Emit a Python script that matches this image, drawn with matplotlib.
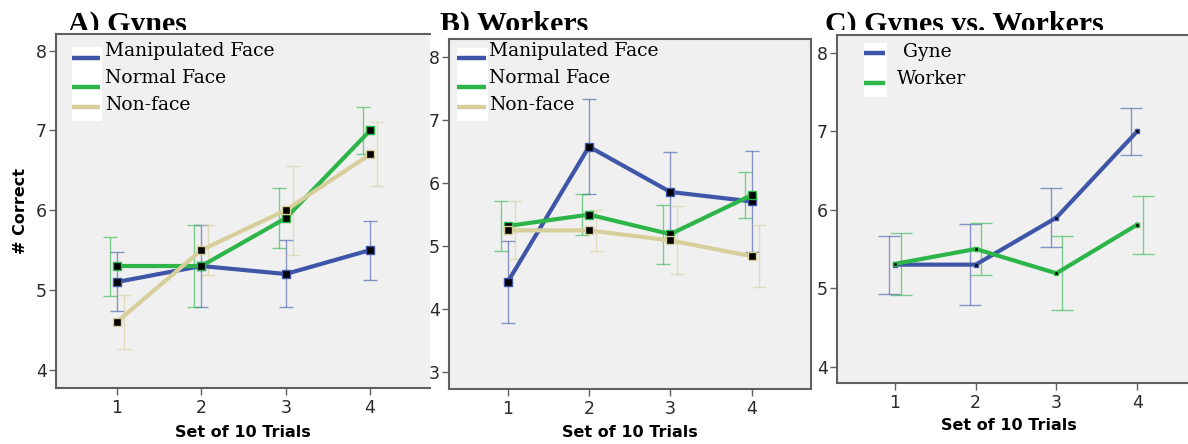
import numpy as np
import matplotlib.pyplot as plt
from matplotlib.patches import Rectangle
from matplotlib.transforms import Bbox, TransformedBbox

W, H = 1188, 444

trials = [1, 2, 3, 4]

# A) Gynes
gyne_manip = [5.1, 5.3, 5.2, 5.5]
gyne_manip_err = [0.37, 0.52, 0.42, 0.37]
gyne_normal = [5.3, 5.3, 5.9, 7.0]
gyne_normal_err = [0.37, 0.52, 0.38, 0.30]
gyne_nonface = [4.6, 5.5, 6.0, 6.7]
gyne_nonface_err = [0.34, 0.31, 0.56, 0.40]

# B) Workers
worker_manip = [4.43, 6.58, 5.86, 5.71]
worker_manip_err = [0.65, 0.75, 0.64, 0.80]
worker_normal = [5.32, 5.5, 5.19, 5.81]
worker_normal_err = [0.40, 0.33, 0.47, 0.37]
worker_nonface = [5.25, 5.25, 5.09, 4.84]
worker_nonface_err = [0.46, 0.33, 0.54, 0.49]

# C) Gynes vs. Workers
caste_gyne = [5.3, 5.3, 5.9, 7.0]
caste_gyne_err = [0.37, 0.52, 0.38, 0.30]
caste_worker = [5.31, 5.5, 5.19, 5.81]
caste_worker_err = [0.40, 0.33, 0.47, 0.37]

BLUE = "#3f56a8"
GREEN = "#2db54a"
TAN = "#d6cf9b"
BG = "#f0f0f0"
SPINE = "#606060"


def px_box(left, top, right, bottom):
    """pixel box (from top-left of figure) -> figure fraction rect"""
    return [left / W, 1 - bottom / H, (right - left) / W, (bottom - top) / H]


def draw_series(ax, y, err, color, offset, ms, capsize):
    x = np.array(trials, dtype=float)
    ax.errorbar(x + offset, y, yerr=err, fmt="none", ecolor=color, elinewidth=1,
                capsize=capsize, capthick=1, alpha=0.6, zorder=2)
    ax.plot(x, y, color=color, lw=3, zorder=3)
    ax.plot(x, y, "s", ms=ms, mfc="black", mec=color, mew=1, zorder=4)


def add_legend(ax, box, entries):
    """box and entry positions are pixel offsets from the axes' top-left corner"""
    bb = ax.get_position()
    aw, ah = bb.width * W, bb.height * H
    fx = lambda d: d / aw
    fy = lambda d: 1 - d / ah
    x0, y0, x1, y1 = box
    ax.add_patch(Rectangle((fx(x0), fy(y1)), fx(x1) - fx(x0), fy(y0) - fy(y1),
                           transform=ax.transAxes, facecolor="white",
                           edgecolor="none", zorder=5))
    for label, color, line_y, text_x, text_y in entries:
        ax.plot([fx(x0), fx(x1 - 2)], [fy(line_y), fy(line_y)], color=color, lw=3.2,
                transform=ax.transAxes, zorder=6, solid_capstyle="butt")
        ax.text(fx(text_x), fy(text_y), label, transform=ax.transAxes,
                fontsize=13.5, family="DejaVu Serif", va="baseline", zorder=6)


def style_axes(ax, xlim, ylim, yticks, right_spine):
    ax.set_facecolor(BG)
    ax.set_xlim(*xlim)
    ax.set_ylim(*ylim)
    ax.set_xticks(trials)
    ax.set_yticks(yticks)
    for side, sp in ax.spines.items():
        sp.set_color(SPINE)
        sp.set_linewidth(1.5)
    ax.spines["right"].set_visible(right_spine)
    ax.tick_params(direction="out", length=5, width=1, color=SPINE,
                   labelsize=12.5, labelcolor="#2a2a2a")
    ax.tick_params(axis="y", pad=1.5)
    ax.tick_params(axis="x", pad=3)
    ax.set_xlabel("Set of 10 Trials", fontsize=11.5, fontweight="bold")


fig = plt.figure(figsize=(W / 100, H / 100), dpi=100)

axA = fig.add_axes(px_box(56, 34, 430, 388))
axB = fig.add_axes(px_box(449, 39, 811, 389))
axC = fig.add_axes(px_box(836.7, 35, 1188, 383))

# panel A
style_axes(axA, (0.276, 4.71), (3.77, 8.21), [4, 5, 6, 7, 8], False)
draw_series(axA, gyne_manip, gyne_manip_err, BLUE, 0.0, 6, 5)
draw_series(axA, gyne_normal, gyne_normal_err, GREEN, -0.083, 6, 5)
draw_series(axA, gyne_nonface, gyne_nonface_err, TAN, 0.083, 6, 5)
axA.set_ylabel("# Correct", fontsize=11.5, fontweight="bold")
axA.yaxis.set_label_coords(-0.075, 0.5)
axA.xaxis.set_label_coords(0.5, -0.104)
add_legend(axA, (16, 13, 46, 87), [
    ("Manipulated Face", BLUE, 24, 49, 22),
    ("Normal Face", GREEN, 53, 49, 49),
    ("Non-face", TAN, 73, 49, 76),
])

# panel B
style_axes(axB, (0.278, 4.73), (2.73, 8.29), [3, 4, 5, 6, 7, 8], True)
draw_series(axB, worker_manip, worker_manip_err, BLUE, 0.0, 6, 5)
draw_series(axB, worker_normal, worker_normal_err, GREEN, -0.086, 6, 5)
draw_series(axB, worker_nonface, worker_nonface_err, TAN, 0.086, 6, 5)
axB.xaxis.set_label_coords(0.5, -0.104)
add_legend(axB, (8, 9, 39, 82), [
    ("Manipulated Face", BLUE, 19, 40, 17),
    ("Normal Face", GREEN, 48, 40, 44),
    ("Non-face", TAN, 68, 40, 71),
])

# panel C
style_axes(axC, (0.278, 4.63), (3.79, 8.23), [4, 5, 6, 7, 8], False)
draw_series(axC, caste_gyne, caste_gyne_err, BLUE, -0.07, 3, 8)
draw_series(axC, caste_worker, caste_worker_err, GREEN, 0.07, 3, 8)
axC.xaxis.set_label_coords(0.49, -0.1)
add_legend(axC, (27, 8, 50, 62), [
    (" Gyne", BLUE, 18, 60, 22),
    ("Worker", GREEN, 48, 60, 49),
])

# panel titles, clipped just above the plot frames like in the original
clip = TransformedBbox(Bbox.from_extents(0, 1 - 30 / H, 1, 1), fig.transFigure)
for x, title in [(68, "A) Gynes"), (440, "B) Workers"), (825, "C) Gynes vs. Workers")]:
    t = fig.text(x / W, 1 - 32 / H, title, fontsize=21.5, fontweight="bold",
                 family="Liberation Serif", va="baseline", ha="left")
    t.set_clip_box(clip)
    t.set_clip_on(True)

fig.savefig("out.png", dpi=100)
